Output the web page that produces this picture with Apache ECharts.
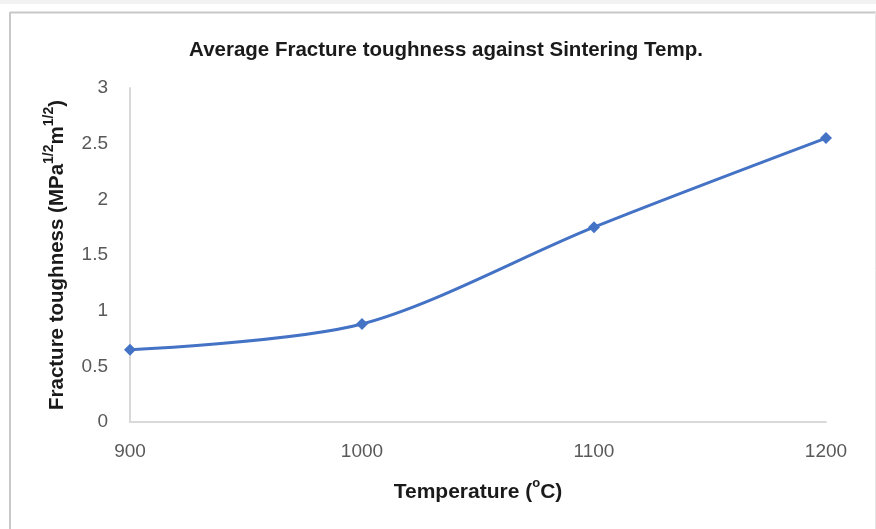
<!DOCTYPE html>
<html>
<head>
<meta charset="utf-8">
<script src="https://cdn.jsdelivr.net/npm/echarts@6/dist/echarts.min.js"></script>
<style>
  html, body { margin: 0; padding: 0; background: #ffffff; }
  #chart { width: 876px; height: 529px; }
</style>
</head>
<body>
<div id="chart"></div>
<script>
// Sintering temperature (°C) and average fracture toughness (MPa^1/2 m^1/2)
const temperatures = [900, 1000, 1100, 1200];
const toughness = [0.65, 0.88, 1.75, 2.55];
const yTicks = [0, 0.5, 1, 1.5, 2, 2.5, 3];

const chart = echarts.init(document.getElementById('chart'), null, { renderer: 'canvas' });

const FONT = '"Liberation Sans", Arial, sans-serif';
const AXIS_GREY = '#d9d9d9';
const TEXT_DARK = '#1a1a1a';

chart.setOption({
  backgroundColor: '#ffffff',
  animation: false,
  title: {
    text: 'Average Fracture toughness against Sintering Temp.',
    left: 441,
    textAlign: 'center',
    top: 35,
    textStyle: { fontFamily: FONT, fontSize: 20.5, fontWeight: 'bold', color: TEXT_DARK }
  },
  grid: { left: 130, right: 50, top: 88, bottom: 107, containLabel: false },
  xAxis: {
    type: 'value',
    min: temperatures[0],
    max: temperatures[temperatures.length - 1],
    interval: 100,
    name: '{b|Temperature (}{s|o}{b|C)}',
    nameLocation: 'middle',
    nameGap: 55,
    nameTextStyle: {
      rich: {
        b: { fontFamily: FONT, fontSize: 21, fontWeight: 'bold', color: TEXT_DARK, verticalAlign: 'bottom', lineHeight: 26 },
        s: { fontFamily: FONT, fontSize: 13, fontWeight: 'bold', color: TEXT_DARK, verticalAlign: 'top', lineHeight: 26 }
      }
    },
    axisLine: { show: true, lineStyle: { color: AXIS_GREY, width: 2 } },
    axisTick: { show: false },
    splitLine: { show: false },
    axisLabel: {
      margin: 20, fontFamily: FONT, fontSize: 19, color: '#595959',
      formatter: v => String(v)
    }
  },
  yAxis: {
    type: 'value',
    min: yTicks[0],
    max: yTicks[yTicks.length - 1],
    interval: 0.5,
    name: '{b|Fracture toughness (MPa}{s|1/2}{b|m}{s|1/2}{b|)}',
    nameLocation: 'middle',
    nameRotate: 90,
    nameGap: 62,
    nameTextStyle: {
      rich: {
        b: { fontFamily: FONT, fontSize: 20.5, fontWeight: 'bold', color: TEXT_DARK, verticalAlign: 'bottom', lineHeight: 26 },
        s: { fontFamily: FONT, fontSize: 14, fontWeight: 'bold', color: TEXT_DARK, verticalAlign: 'top', lineHeight: 26 }
      }
    },
    axisLine: { show: true, lineStyle: { color: AXIS_GREY, width: 2 } },
    axisTick: { show: false },
    splitLine: { show: false },
    axisLabel: { margin: 22, fontFamily: FONT, fontSize: 19, color: '#595959' }
  },
  series: [{
    type: 'line',
    data: temperatures.map((t, i) => [t, toughness[i]]),
    smooth: 0.3,
    symbol: 'diamond',
    symbolSize: 12,
    lineStyle: { color: '#4472c4', width: 3 },
    itemStyle: { color: '#4472c4' }
  }],
  graphic: [
    { type: 'rect', shape: { x: 0, y: 0, width: 876, height: 4 }, style: { fill: '#f2f2f2' }, silent: true },
    { type: 'line', shape: { x1: 10, y1: 12.5, x2: 876, y2: 12.5 }, style: { stroke: '#c8c8c8', lineWidth: 2 }, silent: true },
    { type: 'line', shape: { x1: 10, y1: 12, x2: 10, y2: 529 }, style: { stroke: '#c8c8c8', lineWidth: 2 }, silent: true },
    { type: 'line', shape: { x1: 875.5, y1: 12, x2: 875.5, y2: 529 }, style: { stroke: '#e6e6e6', lineWidth: 1 }, silent: true }
  ]
});
</script>
</body>
</html>
